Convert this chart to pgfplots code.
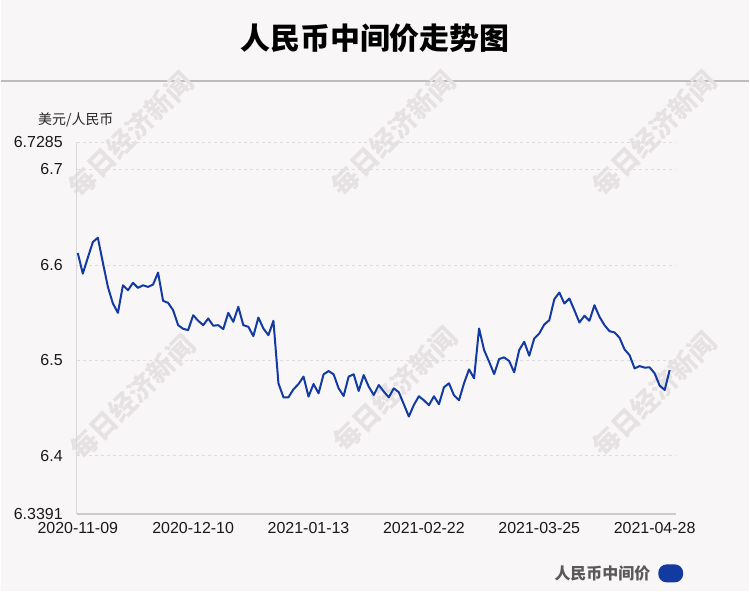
\documentclass[border=0pt]{standalone}
\usepackage{pgfplots}
\pgfplotsset{compat=1.18}
\usepackage{pgfplotstable}
\usepackage{fontspec}
\setmainfont{Liberation Sans}
\newfontfamily\cjk{Noto Sans CJK SC}
\definecolor{bgcol}{RGB}{249,246,247}
\definecolor{linecol}{RGB}{18,58,160}
\definecolor{hdrline}{RGB}{190,188,189}
\definecolor{wmcol}{RGB}{230,226,227}
\definecolor{gridcol}{RGB}{222,220,221}
\pgfplotstableread{
i v
0 6.6125
1 6.5909
2 6.6076
3 6.6240
4 6.6285
5 6.6024
6 6.5770
7 6.5596
8 6.5498
9 6.5787
10 6.5735
11 6.5812
12 6.5760
13 6.5787
14 6.5770
15 6.5794
16 6.5920
17 6.5624
18 6.5603
19 6.5526
20 6.5369
21 6.5331
22 6.5317
23 6.5473
24 6.5415
25 6.5369
26 6.5439
27 6.5363
28 6.5369
29 6.5327
30 6.5498
31 6.5404
32 6.5561
33 6.5369
34 6.5352
35 6.5254
36 6.5449
37 6.5334
38 6.5264
39 6.5415
40 6.4760
41 6.4613
42 6.4613
43 6.4697
44 6.4752
45 6.4830
46 6.4621
47 6.4752
48 6.4655
49 6.4854
50 6.4888
51 6.4854
52 6.4707
53 6.4627
54 6.4830
55 6.4854
56 6.4679
57 6.4846
58 6.4725
59 6.4637
60 6.4742
61 6.4673
62 6.4613
63 6.4707
64 6.4666
65 6.4540
66 6.4412
67 6.4533
68 6.4624
69 6.4582
70 6.4530
71 6.4624
72 6.4540
73 6.4718
74 6.4760
75 6.4634
76 6.4582
77 6.4760
78 6.4906
79 6.4812
80 6.5334
81 6.5108
82 6.4986
83 6.4857
84 6.5014
85 6.5031
86 6.4993
87 6.4875
88 6.5108
89 6.5195
90 6.5049
91 6.5230
92 6.5282
93 6.5376
94 6.5421
95 6.5641
96 6.5711
97 6.5596
98 6.5648
99 6.5526
100 6.5397
101 6.5467
102 6.5415
103 6.5578
104 6.5457
105 6.5369
106 6.5306
107 6.5293
108 6.5237
109 6.5115
110 6.5055
111 6.4916
112 6.4940
113 6.4924
114 6.4927
115 6.4864
116 6.4736
117 6.4690
118 6.4899
}\ratetable
\begin{document}
\begin{tikzpicture}[x=1pt,y=1pt]
\fill[bgcol] (0,0) rectangle (750,593);
\draw[hdrline, line width=2pt] (0,512) -- (750,512);
\node[font=\cjk\bfseries\fontsize{30}{36}\selectfont, text=black] at (375,555) {人民币中间价走势图};
\foreach \cx/\cy in {130/458, 393/459, 655/459, 132/195, 395/203, 655/198}{
  \node[font=\cjk\bfseries\fontsize{27}{30}\selectfont, text=wmcol, rotate=45] at (\cx,\cy) {每日经济新闻};
}
\node[font=\cjk\fontsize{14}{16}\selectfont, text=black!85] at (75,473) {美元/人民币};
\begin{axis}[
  at={(76pt,77.7pt)}, anchor=south west,
  scale only axis, width=601pt, height=372.6pt,
  xmin=-0.2, xmax=119.3, ymin=6.3391, ymax=6.7285,
  axis x line*=bottom, axis y line*=left,
  x axis line style={-, draw=black!20, line width=2pt},
  y axis line style={-, draw=black!15, line width=0.8pt},
  major tick length=0pt,
  xtick={0,23,46,69,92,115},
  xticklabels={2020-11-09,2020-12-10,2021-01-13,2021-02-22,2021-03-25,2021-04-28},
  ytick={6.3391,6.4,6.5,6.6,6.7,6.7285},
  yticklabels={6.3391,6.4,6.5,6.6,6.7,6.7285},
  ymajorgrids,
  grid style={dashed, draw=gridcol, line width=0.8pt},
  tick label style={font=\fontsize{16}{18}\selectfont, text=black!90, inner sep=0pt},
  xticklabel style={anchor=center, yshift=-14.5pt},
  yticklabel style={anchor=east, xshift=-14pt},
  legend plot pos=right,
  legend style={at={(1.012,-0.16)}, anchor=east, draw=none, fill=none,
    font=\cjk\bfseries\fontsize{16}{18}\selectfont, text=black!65, inner sep=0pt},
  legend image code/.code={\path (0pt,-8pt) (0pt,8pt); \fill[linecol, rounded corners=7.5pt] (6pt,-8pt) rectangle (29pt,8pt);},
  clip=false,
]
\addplot[linecol, line width=2pt, line join=round] table[x=i, y=v] {\ratetable};
\addlegendentry{人民币中间价}
\end{axis}
\end{tikzpicture}
\end{document}
